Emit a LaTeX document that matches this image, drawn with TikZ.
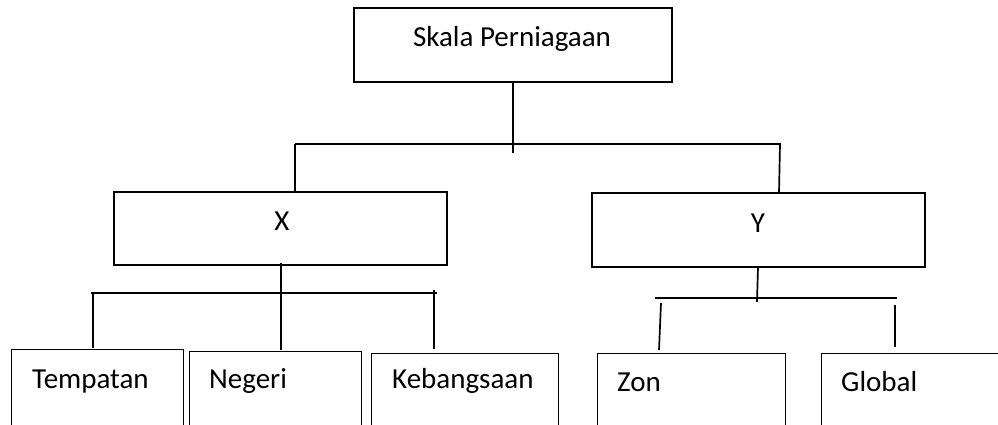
\documentclass[tikz,border=0pt]{standalone}
\usepackage{fontspec}
\setmainfont{Carlito}
\usepackage{tikz}
\tikzset{
  box/.style={draw,line width=1.2pt,inner sep=0pt},
  lbl/.style={inner sep=0pt,font=\fontsize{29}{35}\selectfont},
  link/.style={line width=1.7pt}
}

\begin{document}
\begin{tikzpicture}[x=1pt,y=-1pt]
			\useasboundingbox (0,0) rectangle (998,425);
			\clip (0,0) rectangle (998,425);
			% kotak
			\node[box,minimum width=318pt,minimum height=74pt] (top) at (513,45) {};
			\node[box,minimum width=333pt,minimum height=73pt] (x) at (280.5,228.5) {};
			\node[box,minimum width=333pt,minimum height=74pt] (y) at (758.5,230) {};
			\node[box,anchor=north west,minimum width=172pt,minimum height=100pt] (tempatan) at (11,349) {};
			\node[box,anchor=north west,minimum width=172pt,minimum height=100pt] (negeri) at (189,351) {};
			\node[box,anchor=north west,minimum width=187pt,minimum height=100pt] (kebangsaan) at (371,353) {};
			\node[box,anchor=north west,minimum width=188pt,minimum height=100pt] (zon) at (597,353) {};
			\node[box,anchor=north west,minimum width=190pt,minimum height=100pt] (global) at (821,353) {};
			% teks
			\node[lbl,anchor=base] (top-t) at (512,47) {Skala Perniagaan};
			\node[lbl,anchor=base] (x-t) at (282,230) {X};
			\node[lbl,anchor=base] (y-t) at (758,232) {Y};
			\node[lbl,anchor=base west] (tempatan-t) at (32,388) {Tempatan};
			\node[lbl,anchor=base west] (negeri-t) at (209,388) {Negeri};
			\node[lbl,anchor=base west] (kebangsaan-t) at (392,388) {Kebangsaan};
			\node[lbl,anchor=base west] (zon-t) at (617,391) {Zon};
			\node[lbl,anchor=base west] (global-t) at (841,391) {Global};
			% garis
			\coordinate (topbar-l) at (295,144);
			\coordinate (topbar-r) at (781,144);
			\coordinate (xbar-l) at (91,293);
			\coordinate (xbar-r) at (437,293);
			\coordinate (ybar-l) at (655,298);
			\coordinate (ybar-r) at (897,298);
			\draw[link] (top.south) -- ++(0,70);
			\draw[link] (topbar-l) -- (topbar-r);
			\draw[link] (topbar-l) -- (topbar-l |- x.north);
			\draw[link] (topbar-r) ++(-1,0) -- (779,193);
			\draw[link] (281,263) -- (281,350);
			\draw[link] (xbar-l) -- (xbar-r);
			\draw[link] (93,293) -- (93,348);
			\draw[link] (434,290) -- (434,349);
			\draw[link] (758,267) -- (757,302);
			\draw[link] (ybar-l) -- (ybar-r);
			\draw[link] (661,303) -- (659,350);
			\draw[link] (895,305) -- (895,347);
		\end{tikzpicture}
\end{document}
